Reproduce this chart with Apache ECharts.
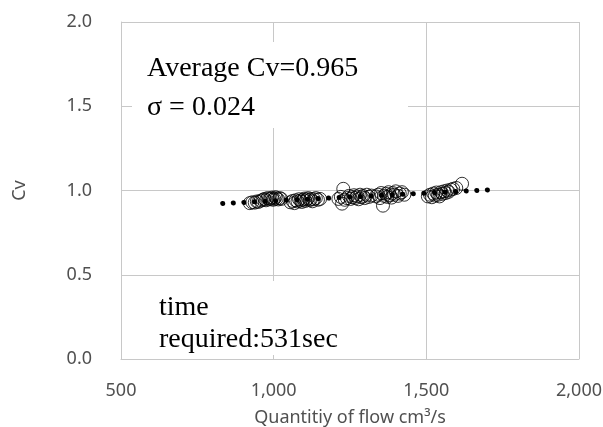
<!DOCTYPE html>
<html>
<head>
<meta charset="utf-8">
<script src="https://cdn.jsdelivr.net/npm/echarts@6/dist/echarts.min.js"></script>
<style>
  html, body { margin: 0; padding: 0; background: #fff; }
  #chart { width: 603px; height: 427px; }
</style>
</head>
<body>
<div id="chart"></div>
<script>
'use strict';

// measured points, grouped by flow setting
var clusterA = [[922,0.925],[930,0.930],[938,0.928],[945,0.935],[950,0.932],[958,0.940],[965,0.945],[970,0.950],[975,0.942],[980,0.955],
    [985,0.948],[990,0.952],[995,0.958],[998,0.945],[1002,0.950],[1006,0.960],[1010,0.953],[1015,0.947],[1020,0.955],[1025,0.950]];
var clusterB = [[1055,0.930],[1062,0.938],[1068,0.925],[1072,0.942],[1078,0.935],[1083,0.948],[1088,0.940],[1092,0.932],[1097,0.945],[1100,0.952],
    [1104,0.938],[1108,0.947],[1113,0.955],[1118,0.943],[1122,0.950],[1127,0.936],[1132,0.948],[1138,0.955],[1145,0.945],[1152,0.950]];
var clusterC = [[1212,0.950],[1220,0.962],[1224,0.922],[1228,1.010],[1233,0.945],[1240,0.955],[1246,0.968],[1252,0.950],[1258,0.960],[1263,0.972],
    [1268,0.955],[1273,0.965],[1278,0.948],[1283,0.975],[1288,0.960],[1293,0.968],[1298,0.955],[1305,0.975],[1312,0.962],[1320,0.970]];
var clusterD = [[1335,0.965],[1342,0.975],[1348,0.955],[1352,0.985],[1358,0.910],[1362,0.968],[1367,0.980],[1372,0.962],[1376,0.990],
    [1381,0.972],[1386,0.958],[1390,0.985],[1395,0.975],[1400,0.995],[1407,0.968],[1413,0.982],[1420,0.990],[1428,0.975]];
var clusterE = [[1505,0.965],[1512,0.975],[1518,0.960],[1523,0.982],[1528,0.970],[1533,0.988],[1538,0.975],[1543,0.965],[1548,0.990],
    [1553,0.980],[1558,0.995],[1563,0.985],[1568,1.000],[1573,0.992],[1580,1.005],[1588,1.010],[1598,1.015],[1617,1.040]];

// linear trend line ends
var trendX = [833, 1705];
var trendY = [0.923, 1.004];

var xTicks = [500, 1000, 1500, 2000];
var yTicks = [0.0, 0.5, 1.0, 1.5, 2.0];

var noteStats = ['Average Cv=0.965', 'σ = 0.024'];
var noteTime = ['time', 'required:531sec'];

var points = [].concat(clusterA, clusterB, clusterC, clusterD, clusterE);
var trend = trendX.map((x, i) => [x, trendY[i]]);

var chart = echarts.init(document.getElementById('chart'));
var gridColor = '#c8c8c8';
var labelFont = {color: '#505050', fontFamily: 'Noto Sans', fontSize: 18};
var noteFont = '28px "Liberation Serif"';

chart.setOption({
    animation: false,
    grid: {left: 121, right: 24, top: 22, bottom: 68, outerBoundsMode: 'none', containLabel: false},
    xAxis: {
        type: 'value',
        min: xTicks[0], max: xTicks[xTicks.length - 1], interval: 500,
        name: 'Quantitiy of flow cm³/s', nameLocation: 'middle', nameGap: 50,
        nameTextStyle: labelFont,
        axisLine: {show: true, lineStyle: {color: gridColor}},
        axisTick: {show: false},
        axisLabel: Object.assign({margin: 23, formatter: v => v.toLocaleString('en-US')}, labelFont),
        splitLine: {show: true, lineStyle: {color: gridColor, width: 1}}
    },
    yAxis: {
        type: 'value',
        min: yTicks[0], max: yTicks[yTicks.length - 1], interval: 0.5,
        name: 'Cv', nameLocation: 'middle', nameGap: 92,
        nameTextStyle: labelFont,
        axisLine: {show: true, lineStyle: {color: gridColor}},
        axisTick: {show: false},
        axisLabel: Object.assign({margin: 29, formatter: v => v.toFixed(1)}, labelFont),
        splitLine: {show: true, lineStyle: {color: gridColor, width: 1}}
    },
    series: [
        {
            type: 'line', data: trend, symbol: 'none', z: 3,
            lineStyle: {color: '#000', width: 5, type: [0.1, 10.5], cap: 'round'}
        },
        {
            type: 'scatter', data: points, symbol: 'circle', symbolSize: 13, z: 4,
            itemStyle: {color: 'rgba(0,0,0,0)', borderColor: '#000', borderWidth: 1}
        }
    ],
    graphic: [
        {type: 'rect', z: 50, shape: {x: 132, y: 42, width: 276, height: 86}, style: {fill: '#fff'}},
        {type: 'text', z: 51, x: 147, y: 69, style: {text: noteStats[0], font: noteFont, fill: '#000', verticalAlign: 'middle'}},
        {type: 'text', z: 51, x: 147, y: 108, style: {text: noteStats[1], font: noteFont, fill: '#000', verticalAlign: 'middle'}},
        {type: 'rect', z: 50, shape: {x: 150, y: 281, width: 220, height: 74}, style: {fill: '#fff'}},
        {type: 'text', z: 51, x: 159, y: 308, style: {text: noteTime[0], font: noteFont, fill: '#000', verticalAlign: 'middle'}},
        {type: 'text', z: 51, x: 159, y: 340, style: {text: noteTime[1], font: noteFont, fill: '#000', verticalAlign: 'middle'}}
    ]
});
</script>
</body>
</html>
